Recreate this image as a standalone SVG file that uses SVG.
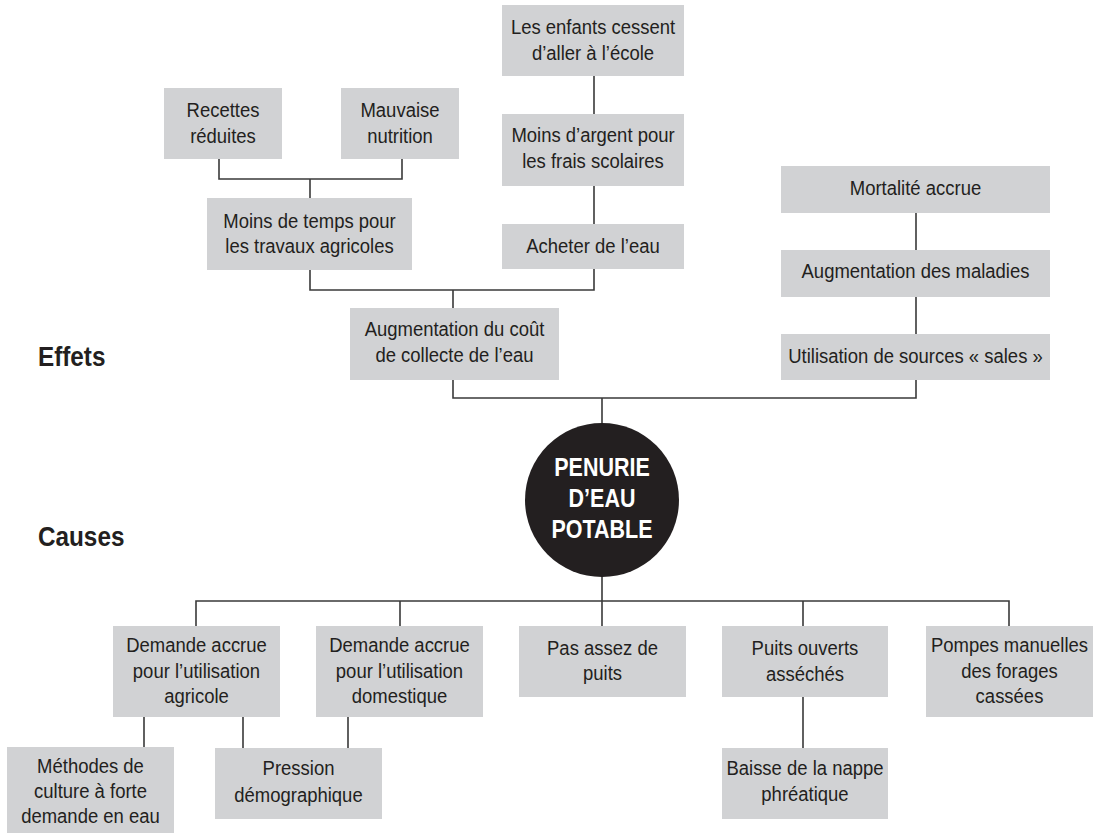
<svg xmlns="http://www.w3.org/2000/svg" width="1100" height="834" viewBox="0 0 1100 834">
<style>
.box{fill:#d1d2d4}
.t{font-family:"Liberation Sans",Arial,sans-serif;font-size:21px;fill:#231f20;text-anchor:middle;transform-box:fill-box;transform-origin:center;transform:scaleX(0.88)}
.lbl{font-family:"Liberation Sans",Arial,sans-serif;font-size:27px;font-weight:bold;fill:#231f20;transform-box:fill-box;transform-origin:left;transform:scaleX(0.9)}
.ct{font-family:"Liberation Sans",Arial,sans-serif;font-size:25px;font-weight:bold;fill:#ffffff;text-anchor:middle;transform-box:fill-box;transform-origin:center;transform:scaleX(0.86)}
.c{stroke:#3a3a3a;stroke-width:1.6;fill:none}
</style>
<rect width="1100" height="834" fill="#ffffff"/>
<g id="connectors">
<path class="c" d="M219 159V179H402V159M310 179V198"/>
<path class="c" d="M594 76V114M594 186V224"/>
<path class="c" d="M310 270V290H594V269M453 290V308"/>
<path class="c" d="M916 213V250M916 297V334"/>
<path class="c" d="M453 380V398H916V380M602 398V423"/>
<path class="c" d="M602 577V626M196 626V601H1009V626M400 601V626M803 601V626"/>
<path class="c" d="M144 717V747M243 717V748M348 717V748M803 697V748"/>
</g>
<g id="label-effets"><text class="lbl" x="38" y="366">Effets</text></g>
<g id="label-causes"><text class="lbl" x="38" y="546">Causes</text></g>
<g id="recettes"><rect class="box" x="164" y="88" width="118" height="71"/><text class="t" x="223" y="117">Recettes</text><text class="t" x="223" y="143">réduites</text></g>
<g id="mauvaise"><rect class="box" x="341" y="88" width="118" height="71"/><text class="t" x="400" y="117">Mauvaise</text><text class="t" x="400" y="143">nutrition</text></g>
<g id="moins-temps"><rect class="box" x="207" y="198" width="205" height="72"/><text class="t" x="309.5" y="228">Moins de temps pour</text><text class="t" x="309.5" y="253">les travaux agricoles</text></g>
<g id="enfants"><rect class="box" x="502" y="5" width="182" height="71"/><text class="t" x="593" y="34">Les enfants cessent</text><text class="t" x="593" y="60">d’aller à l’école</text></g>
<g id="moins-argent"><rect class="box" x="502" y="114" width="182" height="72"/><text class="t" x="593" y="142">Moins d’argent pour</text><text class="t" x="593" y="168">les frais scolaires</text></g>
<g id="acheter"><rect class="box" x="502" y="224" width="182" height="45"/><text class="t" x="593" y="253">Acheter de l’eau</text></g>
<g id="mortalite"><rect class="box" x="781" y="166" width="269" height="47"/><text class="t" x="915.5" y="195">Mortalité accrue</text></g>
<g id="maladies"><rect class="box" x="781" y="250" width="269" height="47"/><text class="t" x="915.5" y="278">Augmentation des maladies</text></g>
<g id="sources"><rect class="box" x="781" y="334" width="269" height="46"/><text class="t" x="915.5" y="363">Utilisation de sources « sales »</text></g>
<g id="cout"><rect class="box" x="350" y="308" width="209" height="72"/><text class="t" x="454.5" y="336">Augmentation du coût</text><text class="t" x="454.5" y="362">de collecte de l’eau</text></g>
<g id="penurie"><circle cx="602" cy="500" r="77" fill="#231f20"/><text class="ct" x="602" y="476">PENURIE</text><text class="ct" x="602" y="507">D’EAU</text><text class="ct" x="602" y="538">POTABLE</text></g>
<g id="agricole"><rect class="box" x="113" y="626" width="167" height="91"/><text class="t" x="196.5" y="652">Demande accrue</text><text class="t" x="196.5" y="678">pour l’utilisation</text><text class="t" x="196.5" y="703">agricole</text></g>
<g id="domestique"><rect class="box" x="316" y="626" width="167" height="91"/><text class="t" x="399.5" y="652">Demande accrue</text><text class="t" x="399.5" y="678">pour l’utilisation</text><text class="t" x="399.5" y="703">domestique</text></g>
<g id="pas-assez"><rect class="box" x="519" y="626" width="167" height="71"/><text class="t" x="602.5" y="655">Pas assez de</text><text class="t" x="602.5" y="680">puits</text></g>
<g id="puits"><rect class="box" x="722" y="626" width="166" height="71"/><text class="t" x="805" y="655">Puits ouverts</text><text class="t" x="805" y="681">asséchés</text></g>
<g id="pompes"><rect class="box" x="926" y="626" width="167" height="91"/><text class="t" x="1009.5" y="652">Pompes manuelles</text><text class="t" x="1009.5" y="678">des forages</text><text class="t" x="1009.5" y="703">cassées</text></g>
<g id="methodes"><rect class="box" x="7" y="747" width="167" height="86"/><text class="t" x="90.5" y="773">Méthodes de</text><text class="t" x="90.5" y="798">culture à forte</text><text class="t" x="90.5" y="823">demande en eau</text></g>
<g id="pression"><rect class="box" x="215" y="748" width="167" height="71"/><text class="t" x="298.5" y="775">Pression</text><text class="t" x="298.5" y="802">démographique</text></g>
<g id="baisse"><rect class="box" x="722" y="748" width="166" height="71"/><text class="t" x="805" y="775">Baisse de la nappe</text><text class="t" x="805" y="801">phréatique</text></g>
</svg>
